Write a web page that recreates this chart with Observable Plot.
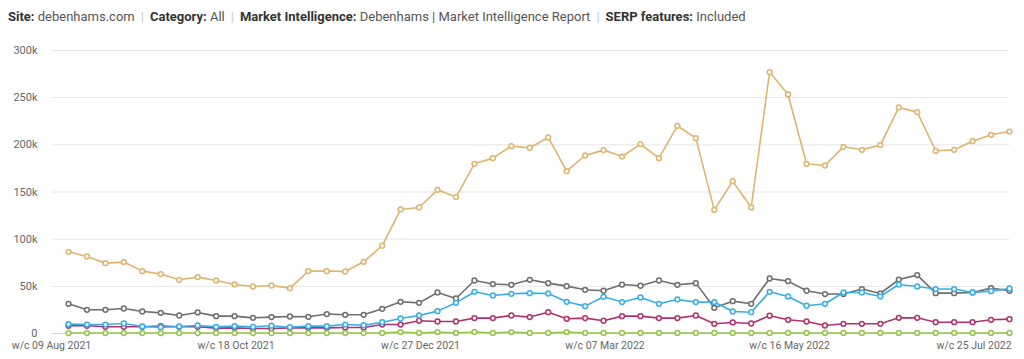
<!DOCTYPE html>
<html><head><meta charset="utf-8">
<script src="https://cdn.jsdelivr.net/npm/d3@7"></script>
<script src="https://cdn.jsdelivr.net/npm/@observablehq/plot@0.6"></script>
<style>
body{margin:0;background:#fff;font-family:Roboto,sans-serif;}
#title{height:34px;line-height:34px;padding-left:8px;font-size:13px;color:#555;white-space:nowrap;}
#title b{color:#333;font-weight:700}
#title .sep{color:#c8c8c8;margin:0 6px}
</style></head><body>
<div id="title"><b>Site:</b> debenhams.com<span class="sep">|</span><b>Category:</b> All<span class="sep">|</span><b>Market Intelligence:</b> Debenhams | Market Intelligence Report<span class="sep">|</span><b>SERP features:</b> Included</div>
<div id="chart"></div>
<script>
// weekly series, values in thousands
const startWeek = "2021-08-09";
const seriesNames = ["Orange", "Grey", "Magenta", "Blue", "Green"];
const seriesColors = ["#e0b36f", "#6e6e6e", "#b3306f", "#37aee8", "#94c449"];
const orange = [86.6,81.6,74.6,75.7,66.1,63,56.9,59.8,56.2,52,49.8,50.9,48.1,66.1,66.1,65.7,76,93,131.5,133.6,152.3,144.6,179.9,185.9,198.6,196.9,207.8,172.1,188.7,194.4,187.6,200.8,185.9,220.2,207.1,131.1,161.5,133.6,277.1,253.4,179.9,178.1,197.9,194.7,199.7,239.6,234.7,193.7,194.7,203.9,210.6,214.1];
const grey = [31.5,25.1,25.1,26.5,23.3,21.9,19.1,22.3,18.4,18.4,16.6,17.4,18,17.7,20.6,19.8,19.8,26.2,33.6,32.5,43.5,37.1,56.2,52.4,51.6,56.9,53.4,50.2,46.3,45.3,51.9,50.6,56.2,51.6,53.4,27.2,34.3,31.5,58.3,55.5,45.3,41.8,41.8,47.1,42.4,57.2,61.9,42.8,42.8,43.5,48.1,45.3];
const magenta = [8.2,8.2,7.1,7.1,7.1,7.8,7.1,7.1,5.7,6,5.3,5.3,6,6,6,6.4,6.4,9.5,9.5,13.5,12.7,12.7,16.3,16.3,19.1,17.4,22.6,15.6,16.3,13.5,18.4,18.4,16.3,16.3,19.1,10.3,11.7,10.6,18.8,14.5,12.7,8.5,10.3,10.3,10.3,16.6,16.6,12,12,12,14.5,15.2];
const blue = [9.9,9.5,9.5,10.6,7.4,6.7,7.4,8.5,7.1,7.8,7.1,8.2,6.7,7.8,7.8,9.5,8.8,12,15.9,19.1,23.7,32.5,44.2,40.3,42.1,42.8,42.4,33.6,29,38.9,33.3,38.2,31.5,36.1,33.3,33.3,23.3,22.6,44.2,39.3,29.4,31.5,43.5,43.5,39.3,51.9,49.8,47.1,47.1,43.5,44.9,47.7];
const green = [0.5,0.5,0.5,0.5,0.5,0.5,0.5,0.5,0.5,0.5,0.5,0.5,0.5,0.5,0.5,0.5,0.5,0.6,1.5,0.6,1.5,0.6,1.6,0.6,1.5,0.6,0.6,1.5,0.6,0.6,0.6,0.6,0.6,0.6,0.6,0.6,0.6,0.6,0.6,0.6,0.6,0.6,0.6,0.6,0.6,0.6,0.6,0.6,0.6,0.6,0.6,0.6];
const yTicks = [0, 50, 100, 150, 200, 250, 300];
const xTickWeeks = ["2021-08-09", "2021-10-18", "2021-12-27", "2022-03-07", "2022-05-16", "2022-07-25"];
const xTickLabels = ["w/c 09 Aug 2021", "w/c 18 Oct 2021", "w/c 27 Dec 2021", "w/c 07 Mar 2022", "w/c 16 May 2022", "w/c 25 Jul 2022"];

const seriesValues = [orange, grey, magenta, blue, green];
const start = new Date(startWeek + "T00:00:00Z");
const dates = orange.map((_, i) => d3.utcDay.offset(start, 7 * i));
const tickDates = xTickWeeks.map(s => new Date(s + "T00:00:00Z"));
const labelByTime = new Map(tickDates.map((d, i) => [+d, xTickLabels[i]]));

const tables = seriesNames.map((name, s) => seriesValues[s].map((v, i) => ({series: name, date: dates[i], value: v})));

const seriesMarks = tables.flatMap((t, s) => [
  Plot.line(t, {x: "date", y: "value", stroke: seriesColors[s], strokeWidth: 1.6}),
  Plot.dot(t, {x: "date", y: "value", stroke: seriesColors[s], fill: "white", r: 2.4, strokeWidth: 1.5})
]);

const chart = Plot.plot({
  width: 1024,
  height: 325,
  marginTop: 16,
  marginBottom: 26,
  marginLeft: 68,
  marginRight: 15,
  style: {fontFamily: "Roboto, sans-serif", fontSize: "11px", color: "#666", background: "white"},
  x: {type: "utc", domain: [dates[0], dates[dates.length - 1]]},
  y: {domain: [0, 300]},
  marks: [
    Plot.ruleY(yTicks.filter(t => t > 0), {stroke: "#e6e6e6", insetLeft: -16}),
    Plot.ruleY([0], {stroke: "#ccd6eb", insetLeft: -16}),
    Plot.axisY({ticks: yTicks, tickSize: 0, tickPadding: 31, label: null, fontSize: 11, tickFormat: d => d === 0 ? "0" : d + "k"}),
    Plot.axisX({ticks: tickDates, tickSize: 0, tickPadding: 8, label: null, fontSize: 10.5, dx: -17, tickFormat: d => labelByTime.get(+d)}),
    ...seriesMarks
  ]
});
document.getElementById("chart").appendChild(chart);
</script>
</body></html>
